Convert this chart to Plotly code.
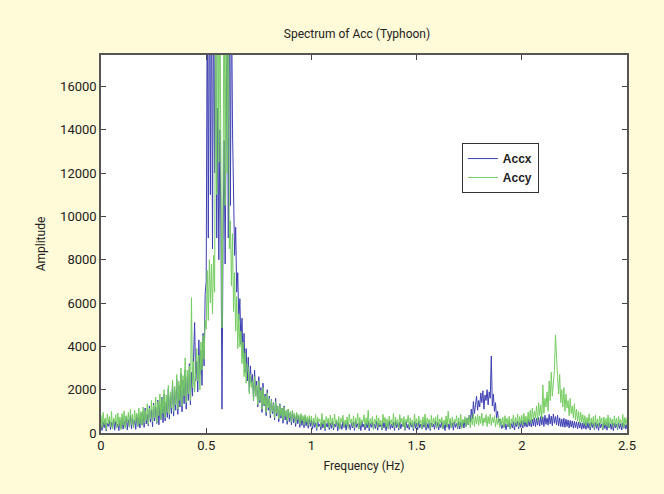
import plotly.graph_objects as go

# Spectrum amplitudes, one value per 0.005 Hz bin from 0.000 to 2.500 Hz
freq_step = 0.005

accx = [
    380, 120, 520, 240, 610, 90, 450, 310, 580, 160, 490, 220, 650, 130, 540, 280, 420, 110, 600, 250,
    700, 180, 560, 320, 760, 140, 620, 270, 810, 200, 680, 350, 590, 170, 840, 300, 720, 230, 900, 380,
    980, 260, 1150, 420, 870, 330, 1250, 510, 1080, 290, 1380, 560, 1200, 440, 1520, 380, 1300, 620, 1650, 480,
    1800, 560, 1450, 720, 2050, 640, 1750, 900, 2300, 780, 1950, 1050, 2500, 860, 2200, 1200, 2750, 980, 2450, 1350,
    2900, 1100, 2600, 1500, 3200, 1300, 2800, 1700, 3500, 5100, 2400, 3300, 1900, 4300, 2700, 3800, 2200, 4600, 3100, 6400,
    7000, 21000, 9000, 23000, 11000, 22000, 8500, 21500, 12000, 20500, 9000, 15000, 8000, 14000, 9500, 1100, 8800, 13500, 7800, 16000,
    20500, 9000, 22000, 10500, 21000, 14000, 10600, 8200, 9500, 6500, 7400, 5200, 6200, 4100, 5300, 3500, 4600, 2800, 3900, 2400,
    3500, 1900, 3100, 2300, 2700, 1500, 2900, 1700, 2400, 1200, 2600, 1400, 2100, 950, 2300, 1250, 1800, 800, 2000, 1050,
    1700, 700, 1550, 900, 1400, 600, 1600, 780, 1250, 520, 1350, 680, 1150, 450, 1250, 600, 1000, 400, 1100, 520,
    950, 380, 1020, 460, 850, 300, 900, 420, 780, 260, 820, 350, 700, 240, 760, 330, 650, 220, 690, 300,
    600, 180, 520, 260, 470, 120, 550, 300, 410, 150, 500, 230, 580, 110, 440, 270, 520, 160, 460, 210,
    530, 140, 420, 280, 560, 100, 480, 220, 400, 170, 540, 250, 450, 130, 510, 290, 390, 150, 470, 240,
    500, 120, 560, 260, 430, 180, 490, 110, 530, 270, 410, 140, 470, 230, 550, 100, 440, 260, 500, 170,
    420, 210, 540, 130, 460, 280, 390, 150, 520, 240, 480, 110, 430, 260, 560, 170, 410, 230, 490, 120,
    540, 250, 450, 140, 510, 200, 420, 290, 480, 120, 530, 230, 400, 160, 500, 270, 440, 110, 520, 220,
    460, 150, 530, 240, 410, 180, 490, 260, 550, 130, 440, 210, 500, 120, 470, 280, 420, 170, 540, 230,
    480, 140, 430, 250, 520, 190, 460, 110, 500, 270, 410, 160, 550, 230, 470, 130, 510, 260, 440, 200,
    520, 180, 490, 280, 560, 230, 620, 300, 700, 380, 820, 500, 1100, 650, 1450, 900, 1300, 1700, 1050, 1500,
    1200, 1850, 1400, 1950, 1100, 1750, 1500, 2000, 1300, 1900, 1600, 3550, 1250, 1800, 1000, 1400, 700, 1000, 500, 650,
    420, 200, 380, 260, 450, 150, 410, 280, 500, 180, 440, 230, 520, 140, 470, 300, 540, 200, 490, 260,
    560, 230, 600, 300, 540, 270, 650, 320, 600, 280, 640, 330, 700, 300, 680, 360, 720, 320, 760, 380,
    750, 300, 820, 400, 700, 360, 860, 420, 780, 340, 880, 450, 760, 380, 820, 320, 700, 300, 650, 280,
    680, 260, 640, 300, 600, 230, 580, 280, 560, 220, 540, 250, 520, 190, 500, 230, 480, 170, 470, 210,
    480, 170, 520, 220, 460, 140, 500, 250, 440, 160, 490, 210, 430, 120, 470, 240, 420, 150, 480, 200,
    450, 130, 500, 230, 420, 170, 470, 110, 440, 240, 410, 160, 480, 200, 430, 140, 460, 220, 400, 180,
    420,
]

accy = [
    820, 240, 950, 380, 700, 160, 880, 420, 760, 290, 990, 180, 680, 450, 850, 220, 920, 340, 740, 150,
    900, 360, 1020, 210, 800, 470, 950, 280, 1100, 390, 860, 240, 1050, 500, 920, 310, 1150, 420, 990, 350,
    1200, 450, 1050, 580, 1350, 400, 1150, 650, 1500, 520, 1300, 700, 1650, 480, 1450, 800, 1800, 620, 1600, 900,
    2000, 700, 1750, 950, 2200, 850, 1900, 1150, 2450, 1000, 2150, 1300, 2700, 1100, 2400, 1500, 3000, 1250, 2650, 1700,
    3470, 1400, 2900, 1800, 3100, 1500, 6250, 2100, 3300, 1900, 2800, 3900, 2400, 3600, 2000, 4200, 2900, 4500, 3400, 5200,
    4800, 7500, 5200, 8000, 6000, 7800, 5500, 8200, 6500, 20000, 11000, 22000, 12500, 21000, 12000, 4850, 11000, 22000, 10500, 22500,
    12000, 21500, 8500, 9800, 6800, 9200, 5600, 7400, 4700, 6300, 3900, 5500, 3980, 4700, 3200, 4200, 2600, 3700, 2300, 3200,
    3000, 1800, 2700, 2100, 2400, 1500, 2600, 1700, 2200, 1300, 2400, 1500, 1980, 1100, 2100, 1300, 1700, 950, 1850, 1150,
    1600, 850, 1500, 1000, 1350, 700, 1450, 900, 1250, 650, 1300, 800, 1150, 600, 1200, 750, 1050, 550, 1100, 700,
    1000, 500, 1050, 650, 900, 450, 950, 600, 850, 400, 900, 550, 800, 380, 850, 500, 760, 350, 800, 470,
    780, 320, 690, 450, 850, 210, 720, 540, 640, 280, 900, 400, 610, 180, 760, 480, 680, 250, 830, 370,
    700, 230, 880, 420, 620, 300, 760, 160, 690, 510, 820, 270, 600, 390, 740, 200, 870, 460, 650, 310,
    790, 240, 680, 430, 900, 190, 720, 350, 610, 500, 840, 260, 700, 380, 1050, 220, 660, 410, 760, 170,
    640, 440, 810, 250, 700, 360, 590, 200, 860, 470, 720, 280, 650, 180, 780, 420, 610, 330, 900, 230,
    730, 390, 620, 210, 850, 460, 680, 300, 760, 170, 640, 480, 820, 260, 700, 350, 600, 190, 870, 410,
    660, 270, 790, 440, 610, 200, 740, 360, 880, 250, 700, 470, 630, 180, 810, 330, 680, 420, 750, 220,
    840, 300, 650, 460, 720, 190, 600, 380, 790, 270, 1000, 410, 680, 230, 740, 350, 620, 480, 800, 260,
    700, 340, 860, 210, 640, 450, 760, 290, 690, 400, 820, 240, 710, 380, 900, 300, 760, 420, 850, 350,
    780, 440, 920, 330, 700, 480, 850, 300, 760, 420, 880, 350, 720, 460, 800, 280, 690, 390, 740, 260,
    660, 380, 720, 250, 800, 430, 690, 300, 770, 200, 650, 460, 830, 320, 710, 410, 880, 290, 760, 440,
    820, 350, 900, 480, 780, 400, 960, 520, 1050, 450, 1150, 600, 1000, 700, 1250, 550, 1400, 800, 1300, 650,
    2210, 900, 1600, 1200, 1900, 1000, 2400, 1500, 2800, 1700, 2300, 2900, 4520, 3200, 2600, 1800, 2700, 1400, 2000, 1200,
    2100, 1000, 1800, 1150, 1500, 800, 1600, 900, 1250, 700, 1350, 600, 1100, 550, 1000, 450, 950, 500, 850, 400,
    800, 320, 720, 450, 880, 260, 690, 400, 760, 210, 820, 370, 650, 290, 780, 440, 700, 180, 740, 350,
    680, 300, 830, 230, 710, 420, 640, 270, 790, 360, 690, 200, 760, 450, 620, 310, 850, 240, 720, 380,
    700,
]

x_ticks = [0, 0.5, 1, 1.5, 2, 2.5]
x_tick_labels = ["0", "0.5", "1", "1.5", "2", "2.5"]
y_ticks = [0, 2000, 4000, 6000, 8000, 10000, 12000, 14000, 16000]
y_tick_labels = ["0", "2000", "4000", "6000", "8000", "10000", "12000", "14000", "16000"]

freq_x = [round(i * freq_step, 3) for i in range(len(accx))]
freq_y = [round(i * freq_step, 3) for i in range(len(accy))]

FONT = "Liberation Sans Narrow, Roboto, sans-serif"

fig = go.Figure()
fig.add_trace(go.Scatter(x=freq_x, y=accx, mode="lines", name="Accx",
                         line=dict(color="rgb(62,64,178)", width=1)))
fig.add_trace(go.Scatter(x=freq_y, y=accy, mode="lines", name="Accy",
                         line=dict(color="rgb(118,205,98)", width=1)))

axis_common = dict(showline=True, linecolor="#555555", linewidth=1.5, mirror="ticks",
                   ticks="inside", ticklen=5, tickcolor="#444444", showgrid=False,
                   zeroline=False, tickfont=dict(family=FONT, size=13, color="#222222"))

fig.update_layout(
    width=664, height=494,
    margin=dict(l=101, r=37, t=55, b=61),
    paper_bgcolor="#FFFAD7",
    plot_bgcolor="white",
    title=dict(text="Spectrum of Acc (Typhoon)", x=357 / 664, xref="container", xanchor="center",
               y=1 - 34 / 494, yref="container", yanchor="middle",
               font=dict(family=FONT, size=12, color="#222222")),
    xaxis=dict(range=[0, 2.5], tickvals=x_ticks, ticktext=x_tick_labels,
               title=dict(text="Frequency (Hz)", font=dict(family=FONT, size=12, color="#222222"), standoff=9),
               **axis_common),
    yaxis=dict(range=[0, 17450], tickvals=y_ticks, ticktext=y_tick_labels,
               title=dict(text="Amplitude", font=dict(family=FONT, size=12, color="#222222"), standoff=12),
               **axis_common),
    legend=dict(x=0.686, y=0.767, xanchor="left", yanchor="top", bgcolor="white",
                bordercolor="#333333", borderwidth=1, tracegroupgap=0, itemwidth=30,
                font=dict(family="Liberation Sans, Arial, sans-serif", size=12, color="#222222", weight="bold")),
    showlegend=True,
)

fig.write_html("out.html")
